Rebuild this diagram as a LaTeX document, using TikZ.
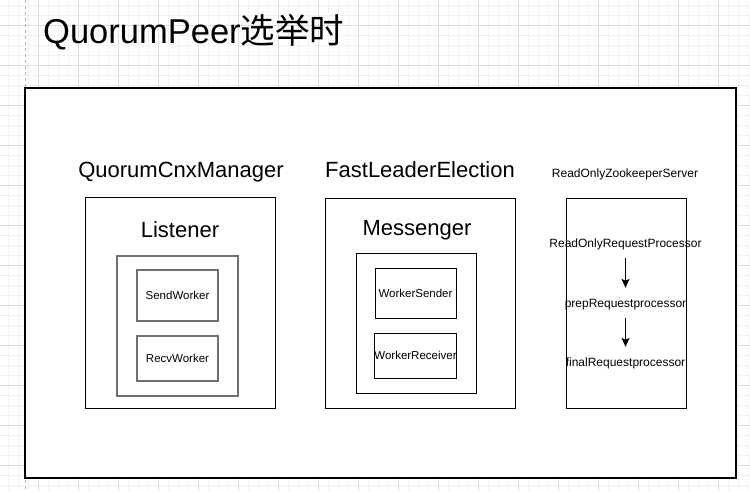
\documentclass[tikz,border=0pt]{standalone}
\usepackage{fontspec}
\setmainfont{Liberation Sans}
\newfontfamily\cjk{Noto Sans CJK SC}
\usetikzlibrary{arrows.meta}
\definecolor{minorc}{HTML}{F2F2F2}
\definecolor{majorc}{HTML}{DDDDDD}
\definecolor{pagec}{HTML}{B0B0B0}
\definecolor{boxgray}{HTML}{707070}
\tikzset{
  minorline/.style={draw=minorc, line width=0.8pt},
  majorline/.style={draw=majorc, line width=0.8pt},
  outerbox/.style={draw=black, fill=white, line width=1.4pt},
  blackbox/.style={draw=black, fill=white, line width=1pt, inner sep=0pt},
  graybox/.style={draw=boxgray, fill=white, line width=1.6pt, inner sep=0pt},
  bigtext/.style={font=\fontsize{22}{26}\selectfont, inner sep=0pt},
  smalltext/.style={font=\fontsize{11.5}{14}\selectfont},
  proctext/.style={font=\fontsize{12}{15}\selectfont, text height=9pt, text depth=0pt, inner xsep=0pt, inner ysep=10.5pt},
  flow/.style={-{Stealth[length=9pt,width=8pt,inset=2pt]}, line width=1pt, draw=black}
}
\begin{document}
\begin{tikzpicture}[x=1pt,y=-1pt]
\useasboundingbox (0,0) rectangle (750,491);
% background grid
\fill[white] (0,0) rectangle (750,491);
\foreach \x in {8,18,...,748} \draw[minorline] (\x,0) -- (\x,491);
\foreach \y in {5,15,...,485} \draw[minorline] (0,\y) -- (750,\y);
\foreach \x in {38,78,...,718} \draw[majorline] (\x,0) -- (\x,491);
\foreach \y in {25,65,...,465} \draw[majorline] (0,\y) -- (750,\y);
\draw[pagec, dashed, line width=0.8pt] (25.5,0) -- (25.5,491);
% title
\node[anchor=base west, inner sep=0pt, font=\fontsize{34.5}{40}\selectfont] (title) at (43,43) {QuorumPeer{\cjk 选举时}};
% outer container
\node[outerbox, minimum width=711pt, minimum height=390pt, inner sep=0pt] (outer) at (380.5,283) {};
% headings
\node[bigtext, anchor=base] (qcm) at (181,177) {QuorumCnxManager};
\node[bigtext, anchor=base] (fle) at (420,177) {FastLeaderElection};
\node[font=\fontsize{12}{15}\selectfont, inner sep=0pt, anchor=base] (rozs) at (625,177) {ReadOnlyZookeeperServer};
% QuorumCnxManager box
\node[blackbox, minimum width=190pt, minimum height=211pt] (qcmbox) at (180,302.5) {};
\node[bigtext, anchor=base] (listener) at (180,237) {Listener};
\node[graybox, minimum width=121pt, minimum height=140pt] (lisbox) at (177.5,326) {};
\node[graybox, smalltext, minimum width=81pt, minimum height=51pt] (send) at (177.5,295.5) {SendWorker};
\node[graybox, smalltext, minimum width=81pt, minimum height=45pt] (recv) at (177.5,358.5) {RecvWorker};
% FastLeaderElection box
\node[blackbox, minimum width=190pt, minimum height=210pt] (flebox) at (420,303) {};
\node[bigtext, anchor=base] (messenger) at (417,235.5) {Messenger};
\node[blackbox, minimum width=120pt, minimum height=140pt] (msgbox) at (416,323) {};
\node[blackbox, smalltext, minimum width=81pt, minimum height=50pt] (wsend) at (415.5,293) {WorkerSender};
\node[blackbox, smalltext, minimum width=81pt, minimum height=45pt] (wrecv) at (415.5,355.5) {WorkerReceiver};
% ReadOnlyZookeeperServer box
\node[proctext] (rorp) at (625.5,243) {ReadOnlyRequestProcessor};
\node[proctext] (prep) at (625.5,303) {prepRequestprocessor};
\node[proctext] (final) at (625.5,362) {finalRequestprocessor};
\node[draw=black, line width=1pt, minimum width=120pt, minimum height=210pt, inner sep=0pt] (rozsbox) at (626,303) {};
\draw[flow] (rorp) -- (prep);
\draw[flow] (prep) -- (final);
\end{tikzpicture}
\end{document}
